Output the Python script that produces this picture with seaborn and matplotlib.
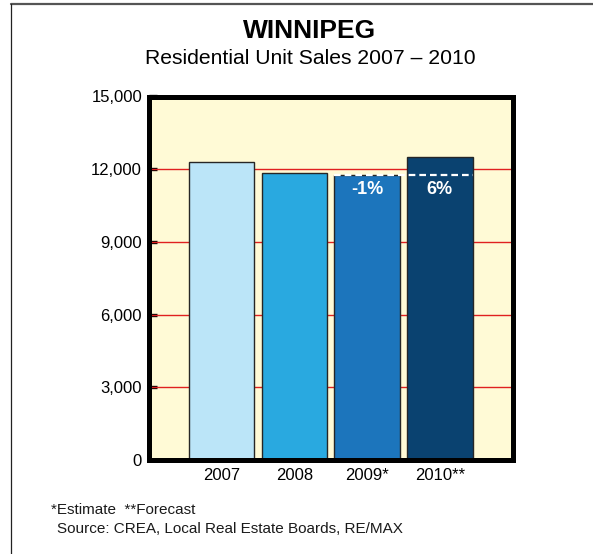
import matplotlib
matplotlib.use("Agg")
import matplotlib.pyplot as plt
from matplotlib.lines import Line2D
from matplotlib.patches import Rectangle
import seaborn as sns
import pandas as pd

years = ["2007", "2008", "2009*", "2010**"]
sales = [12300, 11850, 11750, 12500]
bar_colors = ["#BBE5F8", "#29A9E0", "#1C75BC", "#0A4270"]
change_labels = ["", "", "-1%", "6%"]
y_ticks = [0, 3000, 6000, 9000, 12000, 15000]
y_tick_labels = ["0", "3,000", "6,000", "9,000", "12,000", "15,000"]
title = "WINNIPEG"
subtitle = "Residential Unit Sales 2007 \u2013 2010"
footnote1 = "*Estimate  **Forecast"
footnote2 = "Source: CREA, Local Real Estate Boards, RE/MAX"

sns.set_style("white")
plt.rcParams["font.family"] = ["Liberation Sans", "DejaVu Sans"]

W, H = 593, 554
fig = plt.figure(figsize=(W / 100, H / 100), dpi=100)
fig.patch.set_facecolor("white")

ax_l, ax_r, ax_t, ax_b = 149, 512.5, 96.5, 460
ax = fig.add_axes([ax_l / W, 1 - ax_b / H, (ax_r - ax_l) / W, (ax_b - ax_t) / H])
ax.set_facecolor("#FFFAD6")

df = pd.DataFrame({"year": years, "sales": sales})
sns.barplot(data=df, x="year", y="sales", hue="year", palette=bar_colors,
            legend=False, width=0.9, edgecolor="#262626", linewidth=1.0,
            saturation=1, ax=ax, zorder=3)

ax.set_ylim(0, 15000)
ax.set_xlim(-1, 4)
ax.set_yticks(y_ticks)
ax.set_yticklabels(y_tick_labels)
for v in y_ticks[1:-1]:
    ax.axhline(v, color="#E02020", lw=1.0, zorder=1)

# dashed reference line at the 2009 level
ax.plot([1.55, 3.45], [sales[2], sales[2]], color="white", lw=1.6,
        linestyle=(0, (3.0, 1.8)), zorder=5)

for i, lab in enumerate(change_labels):
    if lab:
        ax.text(i, sales[2] - 600, lab, ha="center", va="center", color="white",
                fontsize=13, fontweight="bold", zorder=6)

for s in ax.spines.values():
    s.set_visible(False)
frame = Rectangle((0, 0), 1, 1, transform=ax.transAxes, fill=False,
                  edgecolor="black", lw=3.6, joinstyle="miter",
                  clip_on=False, zorder=7)
ax.add_patch(frame)

ax.tick_params(axis="y", direction="in", length=6, width=2.4, color="black",
               labelsize=12, pad=5, labelcolor="black", left=True)
ax.tick_params(axis="x", length=0, labelsize=12, pad=6, labelcolor="black")
ax.set_xlabel("")
ax.set_ylabel("")

fig.text(310 / W, 1 - 31 / H, title, ha="center", va="center",
         fontsize=19, fontweight="bold", color="black")
fig.text(310 / W, 1 - 58 / H, subtitle, ha="center", va="center",
         fontsize=15.2, color="black")
fig.text(51 / W, 1 - 510 / H, footnote1, ha="left", va="center",
         fontsize=11, color="#1a1a1a")
fig.text(57 / W, 1 - 529 / H, footnote2, ha="left", va="center",
         fontsize=11, color="#1a1a1a")

# partial frame lines
fig.add_artist(Line2D([11 / W, 1.0], [1 - 4 / H, 1 - 4 / H],
                      color="#555555", lw=1.6, transform=fig.transFigure))
fig.add_artist(Line2D([11 / W, 11 / W], [1 - 4 / H, 0.0],
                      color="#222222", lw=0.9, transform=fig.transFigure))

fig.savefig("out.png", dpi=100)
